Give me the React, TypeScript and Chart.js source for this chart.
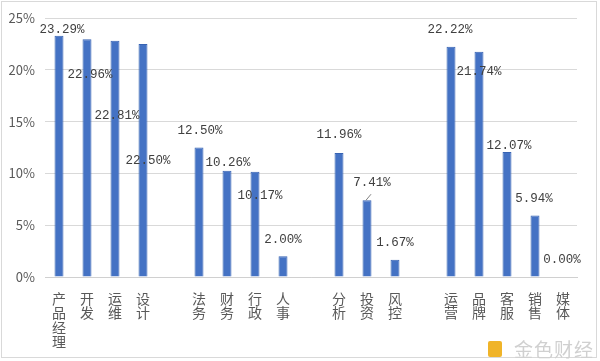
import React, { useEffect, useRef } from "react";
import { Chart, registerables } from "chart.js";

Chart.register(...registerables);

const categories: string[] = [
  "产品经理", "开发", "运维", "设计", "",
  "法务", "财务", "行政", "人事", "",
  "分析", "投资", "风控", "",
  "运营", "品牌", "客服", "销售", "媒体",
];
const values: (number | null)[] = [
  23.29, 22.96, 22.81, 22.5, null,
  12.5, 10.26, 10.17, 2.0, null,
  11.96, 7.41, 1.67, null,
  22.22, 21.74, 12.07, 5.94, 0.0,
];
const yTicks: number[] = [0, 5, 10, 15, 20, 25];
// label placement relative to bar top (pixels), as in the manually placed labels of the original
const labelOffsets: ([number, number] | null)[] = [
  [3, -6], [3, 36], [2, 75], [5, 117], null,
  [1, -17], [1, -8], [5, 24], [0, -17], null,
  [0, -18], [5, -18], [0, -17], null,
  [-1, -17], [0, 20], [2, -6], [-1, -17], [-1, -17],
];
const leaderLines: boolean[] = categories.map((_, i) => i === 11);

const labelPlugin = {
  id: "barLabels",
  afterDatasetsDraw(chart: any) {
    const ctx = chart.ctx;
    const meta = chart.getDatasetMeta(0);
    ctx.save();
    ctx.font = '12.5px "Liberation Mono", "DejaVu Sans Mono", monospace';
    ctx.fillStyle = "#404040";
    ctx.textAlign = "center";
    ctx.textBaseline = "middle";
    meta.data.forEach((bar: any, i: number) => {
      const v = values[i];
      const off = labelOffsets[i];
      if (v === null || !off) return;
      const x = bar.x + off[0];
      const y = bar.y + off[1];
      ctx.fillText(v.toFixed(2) + "%", x, y);
      if (leaderLines[i]) {
        ctx.strokeStyle = "#808080";
        ctx.lineWidth = 1;
        ctx.beginPath();
        ctx.moveTo(bar.x - 1, bar.y);
        ctx.lineTo(bar.x + 4, bar.y - 6);
        ctx.stroke();
      }
    });
    ctx.restore();
  },
};

export default function App() {
  const ref = useRef<HTMLCanvasElement | null>(null);
  useEffect(() => {
    document.body.style.margin = "0";
    if (!ref.current) return;
    const chart = new Chart(ref.current, {
      type: "bar",
      data: {
        labels: categories.map((c) => c.split("")),
        datasets: [
          {
            data: values as any,
            backgroundColor: "#4472C4",
            borderColor: "#3763B3",
            borderWidth: 1,
            barPercentage: 0.32,
            categoryPercentage: 1,
          },
        ],
      },
      options: {
        animation: false,
        responsive: false,
        maintainAspectRatio: false,
        layout: { padding: { left: 0, right: 23, top: 18, bottom: 0 } },
        plugins: { legend: { display: false }, tooltip: { enabled: false } },
        scales: {
          x: {
            grid: { display: false },
            border: { color: "#d0d0d0" },
            afterFit: (s: any) => {
              s.height = 84;
            },
            ticks: {
              autoSkip: false,
              maxRotation: 0,
              minRotation: 0,
              padding: 6,
              color: "#595959",
              font: { size: 14, family: '"Noto Sans CJK SC", sans-serif', lineHeight: 1.04 },
            },
          },
          y: {
            min: 0,
            max: 25,
            afterBuildTicks: (s: any) => {
              s.ticks = yTicks.map((v) => ({ value: v }));
            },
            afterFit: (s: any) => {
              s.width = 45;
            },
            grid: { color: "#d9d9d9", drawTicks: false },
            border: { display: false },
            ticks: {
              padding: 10,
              color: "#595959",
              font: { size: 13, family: '"Noto Sans CJK SC", sans-serif' },
              callback: (v: any) => v + "%",
            },
          },
        },
      },
      plugins: [labelPlugin],
    });
    return () => chart.destroy();
  }, []);
  return (
    <div style={{ position: "relative", width: 600, height: 361, background: "#fff" }}>
      <canvas ref={ref} width={600} height={361} style={{ position: "absolute", left: 0, top: 0 }} />
      <div
        style={{
          position: "absolute",
          left: 1,
          top: 1,
          width: 596,
          height: 357,
          border: "1px solid #d9d9d9",
          boxSizing: "border-box",
          pointerEvents: "none",
        }}
      />
      <div
        style={{
          position: "absolute",
          left: 488,
          top: 335,
          display: "flex",
          alignItems: "center",
          gap: 12,
          fontFamily: '"Noto Sans CJK SC", sans-serif',
          fontSize: 19,
          color: "#d0d0d0",
          letterSpacing: 1,
        }}
      >
        <span style={{ display: "inline-block", width: 14, height: 16, background: "#F0B429", borderRadius: 2 }} />
        <span>金色财经</span>
      </div>
    </div>
  );
}
